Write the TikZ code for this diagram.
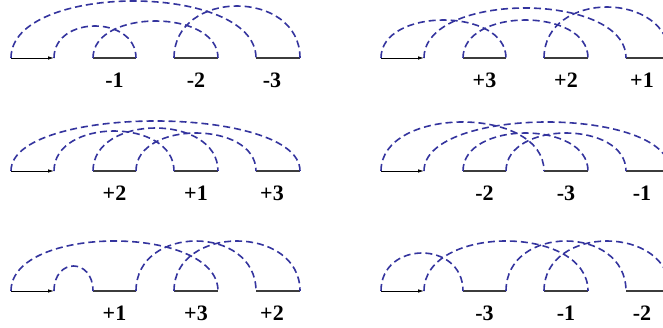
\documentclass[tikz,border=0pt]{standalone}
\usepackage{fontspec}
\setmainfont{Liberation Serif}
\usetikzlibrary{arrows.meta,calc}
\definecolor{linkblue}{RGB}{52,52,158}
\definecolor{genegray}{RGB}{60,60,60}

% one row of genes: start arrow, three segments, their labels
\newcommand{\genome}[6]{%
  \foreach \i/\dx in {0/0,1/43,2/82,3/125,4/163,5/207,6/245,7/289}
    \coordinate (#1\i) at (#2+\dx,#3);
  \draw[startarr] (#10) -- (#11);
  \draw[gene] (#12) -- (#13);
  \draw[gene] (#14) -- (#15);
  \draw[gene] (#16) -- (#17);
  \node[lbl] (#1la) at ($(#12)!.5!(#13)+(0,22)$) {#4};
  \node[lbl] (#1lb) at ($(#14)!.5!(#15)+(0,22)$) {#5};
  \node[lbl] (#1lc) at ($(#16)!.5!(#17)+(-6,22)$) {#6};
}
% dashed adjacency between two gene ends, #3 = height
\newcommand{\linkarc}[3]{\draw[link] (#1) .. controls +(0,{-4/3*#3}) and +(0,{-4/3*#3}) .. (#2);}

\begin{document}
\begin{tikzpicture}[
  x=1pt, y=-1pt,
  link/.style={dash pattern=on 7pt off 4pt, line width=1.6pt, linkblue},
  gene/.style={line width=1.5pt, genegray},
  startarr/.style={-{Latex[length=6pt,width=3.5pt]}, line width=0.8pt, black},
  lbl/.style={font=\fontsize{22}{24}\selectfont\bfseries, inner sep=0pt}
]
  \useasboundingbox (0,0) rectangle (663,328);

  \genome{a}{11}{58}{-1}{-2}{-3}
  \genome{b}{381}{58}{+3}{+2}{+1}
  \genome{c}{11}{171}{+2}{+1}{+3}
  \genome{d}{381}{171}{-2}{-3}{-1}
  \genome{e}{11}{291}{+1}{+3}{+2}
  \genome{f}{381}{291}{-3}{-1}{-2}

  \linkarc{a0}{a6}{57}
  \linkarc{a1}{a3}{32}
  \linkarc{a2}{a5}{37}
  \linkarc{a4}{a7}{52}

  \linkarc{b0}{b3}{38}
  \linkarc{b1}{b6}{50}
  \linkarc{b2}{b5}{38}
  \linkarc{b4}{b7}{51}

  \linkarc{c0}{c7}{50}
  \linkarc{c1}{c4}{40}
  \linkarc{c2}{c5}{43}
  \linkarc{c3}{c6}{38}

  \linkarc{d0}{d4}{49}
  \linkarc{d1}{d7}{49}
  \linkarc{d2}{d5}{38}
  \linkarc{d3}{d6}{38}

  \linkarc{e0}{e5}{50}
  \linkarc{e1}{e2}{25}
  \linkarc{e3}{e6}{50}
  \linkarc{e4}{e7}{50}

  \linkarc{f0}{f2}{38}
  \linkarc{f1}{f5}{50}
  \linkarc{f3}{f6}{50}
  \linkarc{f4}{f7}{50}
\end{tikzpicture}
\end{document}
